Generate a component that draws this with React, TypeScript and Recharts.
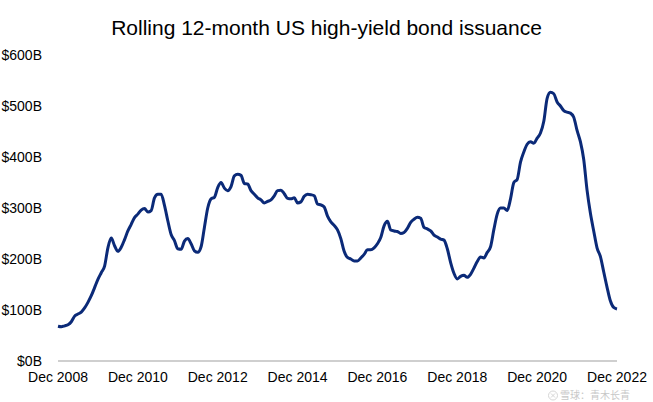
import { LineChart, Line, XAxis, YAxis, CartesianGrid } from 'recharts'

const MONTH_NAMES = ['Jan', 'Feb', 'Mar', 'Apr', 'May', 'Jun', 'Jul', 'Aug', 'Sep', 'Oct', 'Nov', 'Dec']

// Rolling 12-month issuance, $B, monthly from Dec 2008 to Dec 2022
const issuance = [
  68, 67, 69, 71, 77, 88, 92, 96, 104, 115, 128, 144,
  160, 173, 186, 222, 241, 226, 215, 223, 238, 255, 268, 281,
  288, 296, 299, 292, 295, 320, 327, 327, 305, 275, 248, 236,
  220, 219, 235, 240, 230, 216, 213, 224, 262, 300, 318, 321,
  340, 350, 339, 334, 342, 363, 366, 364, 348, 347, 334, 327,
  320, 316, 310, 313, 316, 324, 334, 335, 328, 319, 318, 320,
  310, 312, 323, 327, 326, 324, 308, 306, 302, 284, 273, 266,
  257, 240, 215, 203, 200, 196, 196, 202, 209, 218, 218, 222,
  230, 242, 265, 274, 257, 255, 254, 250, 252, 260, 272, 278,
  282, 280, 262, 259, 255, 247, 243, 239, 237, 220, 193, 172,
  161, 166, 168, 164, 170, 182, 195, 204, 202, 213, 224, 258,
  288, 300, 300, 295, 318, 350, 356, 390, 410, 425, 430, 427,
  437, 447, 470, 515, 527, 524, 508, 500, 491, 488, 486, 478,
  452, 430, 395, 335, 290, 255, 222, 205, 175, 145, 118, 105,
  102,
]

// month labels, starting Dec 2008
const months = issuance.map((_, i) => {
  const m = (11 + i) % 12
  const y = 2008 + Math.floor((11 + i) / 12)
  return `${MONTH_NAMES[m]} ${y}`
})

const yTicks = [0, 100, 200, 300, 400, 500, 600]

const data = months.map((month, i) => ({ month, value: issuance[i] }))

const FONT = '"Liberation Sans", Arial, sans-serif'

export default function App() {
  return (
    <div style={{ position: 'absolute', left: 0, top: 0, width: 653, height: 402, background: '#fff', fontFamily: FONT }}>
      <LineChart width={653} height={402} data={data} margin={{ top: 55, right: 36, bottom: 11, left: 8 }}>
        <CartesianGrid horizontal={false} vertical={false} />
        <XAxis
          dataKey="month"
          interval={23}
          height={30}
          tickLine={false}
          tickMargin={5}
          axisLine={{ stroke: '#bfbfbf', strokeWidth: 1.3 }}
          tick={{ fill: '#000', fontSize: 14, fontFamily: FONT }}
        />
        <YAxis
          domain={[0, 600]}
          ticks={yTicks}
          width={50}
          axisLine={false}
          tickLine={false}
          tickMargin={10}
          tickFormatter={(v: number) => `$${v}B`}
          tick={{ fill: '#000', fontSize: 14, fontFamily: FONT }}
        />
        <Line
          type="monotone"
          dataKey="value"
          stroke="#0b2a78"
          strokeWidth={3}
          dot={false}
          isAnimationActive={false}
        />
      </LineChart>
      <div
        style={{
          position: 'absolute',
          left: 0,
          top: 16,
          width: 653,
          textAlign: 'center',
          fontSize: 21,
          color: '#000',
        }}
      >
        Rolling 12-month US high-yield bond issuance
      </div>
      {/* watermark, kept just below the tick labels */}
      <svg width={653} height={402} style={{ position: 'absolute', left: 0, top: 0, pointerEvents: 'none' }}>
        <g opacity={0.55} stroke="#b5b5b5" fill="none" strokeWidth={1}>
          <circle cx={553} cy={395.5} r={4.5} />
          <path d="M551 393.5 L555 397.5 M555 393.5 L551 397.5" />
        </g>
        <text
          x={560}
          y={399}
          fontSize={10}
          fill="#b0b0b0"
          opacity={0.7}
          fontFamily='"Noto Sans CJK SC", sans-serif'
        >
          雪球：青木长青
        </text>
      </svg>
    </div>
  )
}
